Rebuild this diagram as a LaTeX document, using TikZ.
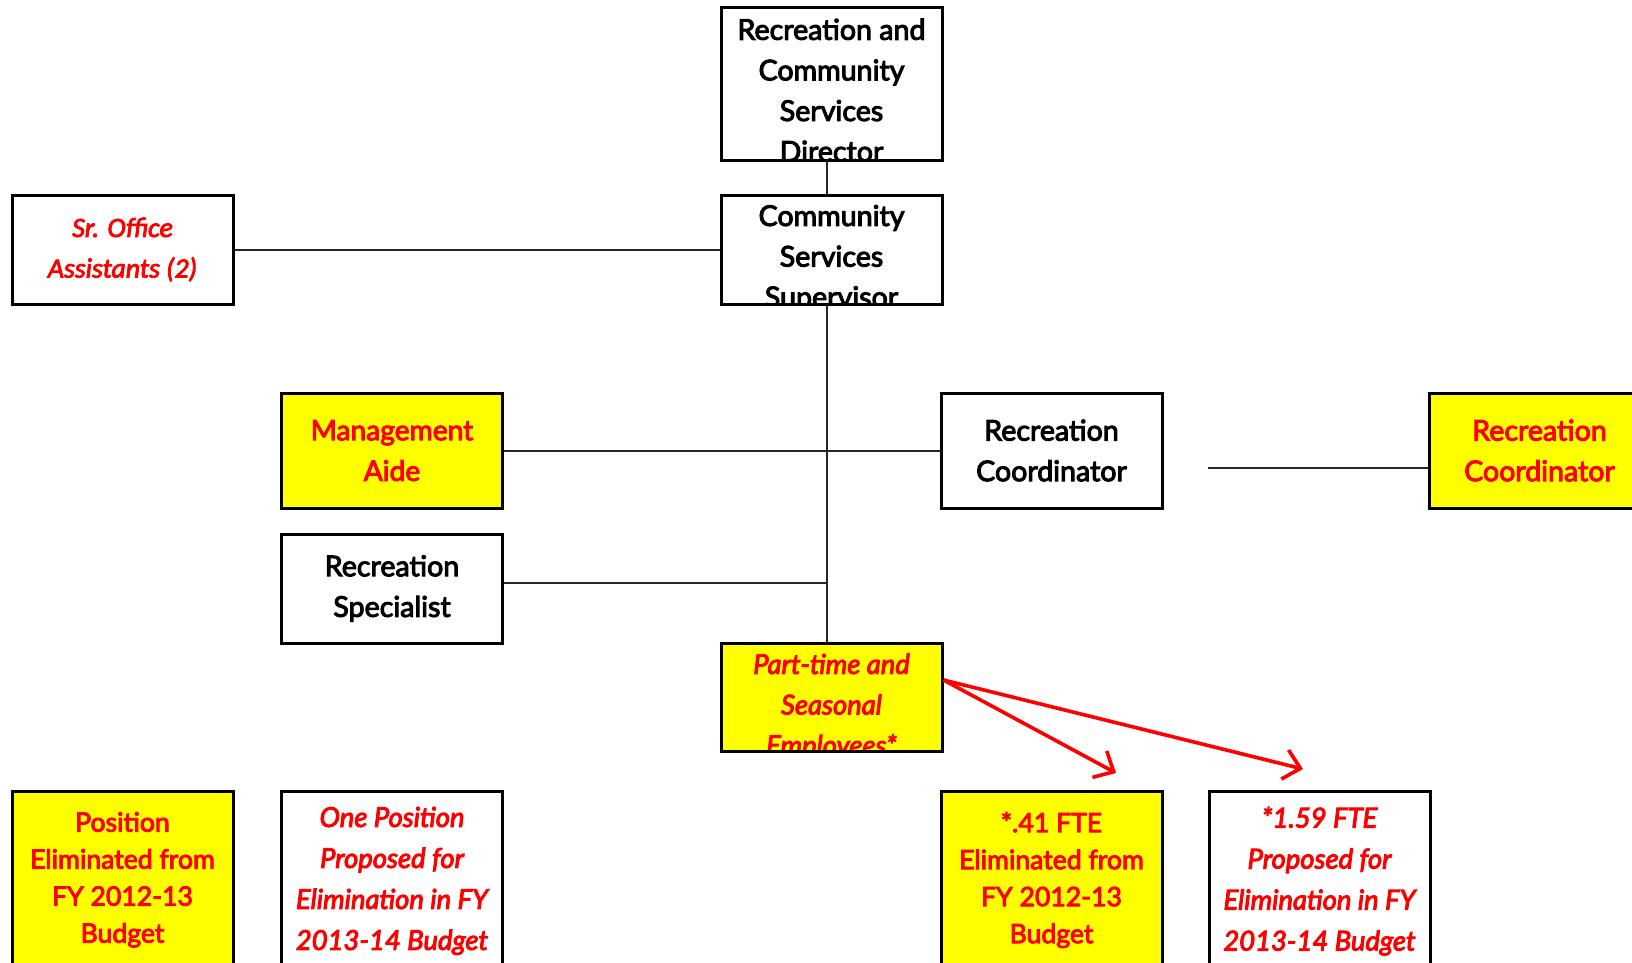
\documentclass[tikz,border=0pt]{standalone}
\usepackage{fontspec}
\setmainfont{Lato}[AutoFakeBold=3.5, BoldItalicFont={Lato/I}, BoldItalicFeatures={FakeBold=3.5}]
\newfontfamily\calibri{Carlito}[AutoFakeBold=3, BoldItalicFont={Carlito/I}, BoldItalicFeatures={FakeBold=3}]
\usetikzlibrary{arrows.meta}
\definecolor{cutyellow}{RGB}{255,255,0}
\definecolor{cutred}{RGB}{255,0,0}

\tikzset{
  unit/.style={draw, line width=1.5pt, minimum width=110.5pt, minimum height=#1,
    inner sep=0pt, align=center},
  cut/.style={fill=cutyellow},
  head/.style={font=\fontsize{14.3}{20.3}\selectfont\bfseries},
  cutword/.style={text=cutred, font=\fontsize{13.3}{18.5}\selectfont\bfseries},
  planword/.style={text=cutred, font=\fontsize{13.7}{20.5}\selectfont\bfseries\itshape},
  spill/.style n args={3}{path picture={
    \node[anchor=north, inner sep=0pt, minimum size=0pt, draw=none, fill=none, align=center, #2]
      at ([yshift=-#1]path picture bounding box.north) {#3};}},
  link/.style={line width=1pt, black!85},
  drop/.style={cutred, line width=1.8pt, -{Straight Barb[length=8pt,width=15pt]}}
}

\begin{document}
\begin{tikzpicture}[x=0.5pt, y=-0.5pt]
  \useasboundingbox (0,0) rectangle (1632,963);

  \node[unit=76pt, spill={4.6pt}{head}{Recreation and\\Community\\Services\\Director}] (dir) at (831.5,84) {};
  \node[unit=54.5pt, spill={4.3pt}{head}{Community\\Services\\Supervisor}] (sup) at (831.5,249.5) {};
  \node[unit=54.5pt, text=cutred, font=\fontsize{13.9}{20.3}\selectfont\calibri\bfseries\itshape] (sroff) at (122.5,249.5) {Sr. Office\\Assistants (2)};

  \node[unit=57.5pt, cut, cutword, font=\fontsize{14.1}{20.3}\selectfont\bfseries] (mgmt) at (392,450.5) {Management\\Aide};
  \node[unit=57.5pt, head] (rcw) at (1051.5,450.5) {Recreation\\Coordinator};
  \node[unit=57.5pt, cut, cutword, font=\fontsize{14.3}{20.3}\selectfont\bfseries] (rcy) at (1539.5,450.5) {Recreation\\Coordinator};
  \node[unit=54.5pt, head] (rspec) at (392,588.5) {Recreation\\Specialist};

  \node[unit=54pt, cut, spill={4.6pt}{planword, font=\fontsize{13.7}{20.3}\selectfont\bfseries\itshape}{Part-time and\\Seasonal\\Employees*}] (part) at (831.5,697) {};

  \node[unit=100pt, cut, spill={9.8pt}{cutword}{Position\\Eliminated from\\FY 2012-13\\Budget}] (gone) at (122.5,891) {};
  \node[unit=100pt, spill={7.2pt}{planword}{One Position\\Proposed for\\Elimination in FY\\2013-14 Budget}] (plan) at (392,891) {};
  \node[unit=100pt, cut, spill={9.8pt}{cutword}{*.41 FTE\\Eliminated from\\FY 2012-13\\Budget}] (fteg) at (1051.5,891) {};
  \node[unit=100pt, spill={7.2pt}{planword}{*1.59 FTE\\Proposed for\\Elimination in FY\\2013-14 Budget}] (ftep) at (1319.5,891) {};

  \draw[link] ([xshift=-2.5pt]dir.south) -- ([xshift=-2.5pt]sup.north);
  \draw[link] (sroff) -- (sup);
  \draw[link] ([xshift=-2.5pt]sup.south) -- ([xshift=-2.5pt]part.north);
  \draw[link] (mgmt) -- (rcw);
  \draw[link] ([yshift=3pt]rspec.east) -- ([yshift=3pt,xshift=-2.5pt]rspec.east -| part);
  \coordinate (gap) at (1208,468);
  \draw[link] (gap) -- (gap -| rcy.west);

  \coordinate (fork) at ([yshift=8.5pt]part.east);
  \coordinate (tipa) at (1116,773);
  \coordinate (tipb) at (1303,769);
  \draw[drop] (fork) -- (tipa);
  \draw[drop] (fork) -- (tipb);
\end{tikzpicture}
\end{document}
